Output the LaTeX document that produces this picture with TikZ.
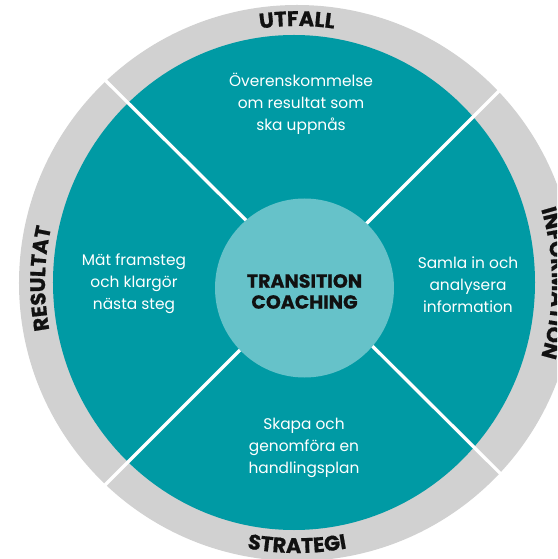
\documentclass[tikz,border=0pt]{standalone}
\usepackage{fontspec}
\setmainfont{Poppins}[BoldFeatures={FakeBold=0.8}]
\usetikzlibrary{decorations.text}
\definecolor{tealA}{HTML}{009AA4}
\definecolor{tealL}{HTML}{66C2C9}
\definecolor{ringgray}{HTML}{D1D1D1}
\definecolor{labelblack}{HTML}{111111}
\newcommand{\ringfnt}{\fontsize{21}{22}\selectfont\bfseries\color{labelblack}}
\tikzset{
  body/.style={text=white, align=center, inner sep=0pt, font=\fontsize{15.4}{22}\selectfont},
  centrelabel/.style={text=labelblack, align=center, inner sep=0pt, font=\fontsize{19}{21}\selectfont\bfseries},
  divider/.style={white, line width=3.3pt},
  ringtext/.style={decorate, decoration={text along path, text align=center, text={|\ringfnt|#1}}}
}
\begin{document}
\begin{tikzpicture}[x=1pt,y=1pt]
\useasboundingbox (-299,-276) rectangle (258,283);
\clip (-299,-276) rectangle (258,283);
% outer ring
\fill[ringgray] (-2,0) circle (278);
% teal disk
\fill[tealA] (-5,0.5) ellipse (241 and 247.5);
% dividers
\coordinate (d1a) at (-205,214);
\coordinate (d1b) at (225,-214);
\coordinate (d2a) at (-209,-217);
\coordinate (d2b) at (212,204);
\begin{scope}
\clip (-2,0) circle (278.5);
\draw[divider] (d1a) -- (d1b);
\draw[divider] (d2a) -- (d2b);
\end{scope}
% centre
\fill[tealL] (5.5,-5) circle (89.5);
\node[centrelabel] (centre) at (5.5,-8.5) {TRANSITION\\COACHING};
% quadrant texts
\node[body] (utfallq) at (2,179) {Överenskommelse\\om resultat som\\ska uppnås};
\node[body] (resultatq) at (-165,-1) {Mät framsteg\\och klargör\\nästa steg};
\node[body] (infoq) at (169,-2) {Samla in och\\analysera\\information};
\node[body] (strategiq) at (5,-165) {Skapa och\\genomföra en\\handlingsplan};
% ring labels
\path[ringtext={UTFALL}] (-2,0) ++(150:257) arc (150:30:257);
\path[ringtext={STRATEGI}] (-2,0) ++(230:270) arc (230:310:270);
\path[ringtext={RESULTAT}] (-2,0) ++(215:252) arc (215:143:252);
\path[ringtext={INFORMATION}] (-2,0) ++(40:255) arc (40:-40:255);
\end{tikzpicture}
\end{document}
